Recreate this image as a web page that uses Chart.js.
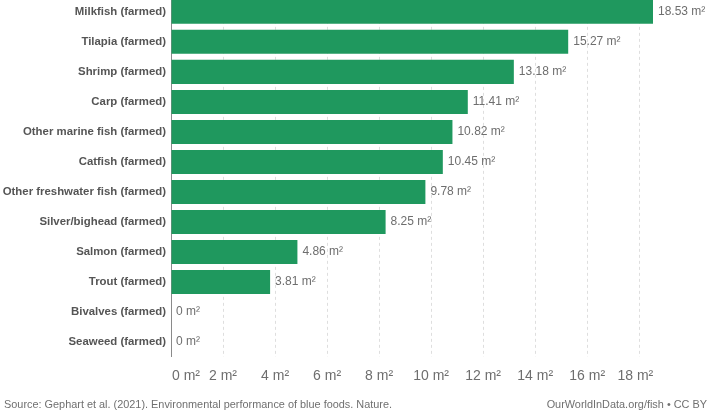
<!DOCTYPE html>
<html lang="en">
<head>
<meta charset="UTF-8">
<title>Land use of farmed fish</title>
<script src="https://cdn.jsdelivr.net/npm/chart.js"></script>
<style>
  html, body { margin: 0; padding: 0; background: #fff; overflow: hidden; }
  /* shifted up so the first bar sits flush with the top edge like the original */
  .wrap { position: absolute; left: 0; top: -15px; width: 709px; height: 427px; }
</style>
</head>
<body>
<div class="wrap"><canvas id="chart"></canvas></div>
<script>
const categories = [
  'Milkfish (farmed)', 'Tilapia (farmed)', 'Shrimp (farmed)', 'Carp (farmed)',
  'Other marine fish (farmed)', 'Catfish (farmed)', 'Other freshwater fish (farmed)',
  'Silver/bighead (farmed)', 'Salmon (farmed)', 'Trout (farmed)',
  'Bivalves (farmed)', 'Seaweed (farmed)'
];
const landUse = [18.53, 15.27, 13.18, 11.41, 10.82, 10.45, 9.78, 8.25, 4.86, 3.81, 0, 0];
const tickValues = [0, 2, 4, 6, 8, 10, 12, 14, 16, 18];
const sourceText = 'Source: Gephart et al. (2021). Environmental performance of blue foods. Nature.';
const creditText = 'OurWorldInData.org/fish • CC BY';

const FONT = '"Liberation Sans", Arial, sans-serif';

// value labels at bar ends, x tick labels and the footer line
const extras = {
  id: 'extras',
  afterDatasetsDraw(chart) {
    const ctx = chart.ctx;
    const meta = chart.getDatasetMeta(0);
    const xs = chart.scales.x;
    const area = chart.chartArea;
    ctx.save();
    ctx.font = '12px ' + FONT;
    ctx.fillStyle = '#6e6e6e';
    ctx.textBaseline = 'middle';
    ctx.textAlign = 'left';
    meta.data.forEach((bar, i) => {
      ctx.fillText(landUse[i] + ' m²', bar.x + 5, bar.y);
    });

    ctx.font = '14px ' + FONT;
    tickValues.forEach((v, i) => {
      const px = xs.getPixelForValue(v);
      const last = i === tickValues.length - 1;
      ctx.textAlign = i === 0 ? 'left' : (last ? 'right' : 'center');
      const x = i === 0 ? px + 1 : (last ? px + 14 : px);
      ctx.fillText(v + ' m²', x, area.bottom + 19);
    });

    ctx.font = '10.9px ' + FONT;
    ctx.fillStyle = '#707070';
    ctx.textAlign = 'left';
    ctx.fillText(sourceText, 4, area.bottom + 48);
    ctx.textAlign = 'right';
    ctx.fillText(creditText, 707, area.bottom + 48);
    ctx.restore();
  }
};

new Chart(document.getElementById('chart'), {
  type: 'bar',
  data: {
    labels: categories,
    datasets: [{
      data: landUse,
      backgroundColor: '#1f985e',
      borderWidth: 0,
      categoryPercentage: 1,
      barPercentage: 0.8
    }]
  },
  options: {
    indexAxis: 'y',
    responsive: true,
    maintainAspectRatio: false,
    animation: false,
    layout: { padding: { top: 0, right: 56, bottom: 55, left: 0 } },
    plugins: {
      legend: { display: false },
      tooltip: { enabled: false }
    },
    scales: {
      x: {
        min: 0,
        max: 18.53,
        afterBuildTicks(scale) {
          scale.ticks = tickValues.map(v => ({ value: v }));
        },
        grid: {
          color: '#dedede',
          drawTicks: false
        },
        border: { display: false, dash: [3, 3] },
        ticks: { display: false }
      },
      y: {
        afterFit(scale) { scale.width = 171; },
        grid: { display: false, drawTicks: false },
        border: { display: true, color: '#8a8a8a', width: 1 },
        ticks: {
          color: '#555555',
          font: { family: FONT, size: 11.4, weight: 'bold' },
          padding: 5
        }
      }
    }
  },
  plugins: [extras]
});
</script>
</body>
</html>
